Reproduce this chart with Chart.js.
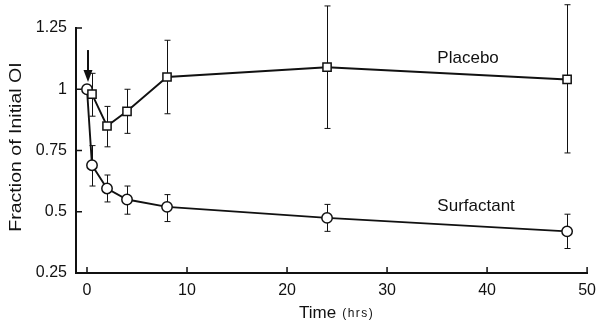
<!DOCTYPE html>
<html><head><meta charset="utf-8">
<script src="https://cdn.jsdelivr.net/npm/chart.js@4/dist/chart.umd.min.js"></script>
<style>html,body{margin:0;padding:0;background:#fff}#wrap{width:604px;height:326px}</style>
</head><body><div id="wrap"><canvas id="c" width="604" height="326"></canvas></div>
<script>
const placeboTime = [0.5, 2, 4, 8, 24, 48];
const placeboValue = [0.98, 0.85, 0.91, 1.05, 1.09, 1.04];
const placeboUpper = [1.065, 0.93, 1.0, 1.2, 1.34, 1.345];
const placeboLower = [0.89, 0.765, 0.82, 0.9, 0.84, 0.74];
const surfTime = [0, 0.5, 2, 4, 8, 24, 48];
const surfValue = [1.0, 0.69, 0.595, 0.55, 0.52, 0.475, 0.42];
const surfUpper = [null, 0.77, 0.65, 0.605, 0.57, 0.53, 0.49];
const surfLower = [null, 0.605, 0.54, 0.49, 0.46, 0.42, 0.35];
const xTicks = [0, 10, 20, 30, 40, 50];
const yTicks = [0.25, 0.5, 0.75, 1, 1.25];
const seriesLabels = ['Placebo', 'Surfactant'];
const xTitle = 'Time';
const xTitleUnit = '(hrs)';
const yTitle = 'Fraction of Initial OI';
const arrowX = 0.1, arrowFrom = 1.16, arrowTo = 1.03;

const FONT = '"Liberation Sans", Arial, sans-serif';
const INK = '#111';

function pts(xs, ys){ return xs.map((x,i)=>({x:x, y:ys[i]})); }

const overlay = {
  id: 'overlay',
  beforeDatasetsDraw(chart){
    const ctx = chart.ctx, xs = chart.scales.x, ys = chart.scales.y;
    ctx.save();
    ctx.strokeStyle = INK; ctx.lineWidth = 1;
    const bars = (t, up, lo) => {
      t.forEach((x,i)=>{
        if (up[i]==null) return;
        const px = Math.round(xs.getPixelForValue(x)) + 0.5;
        const a = ys.getPixelForValue(up[i]), b = ys.getPixelForValue(lo[i]);
        ctx.beginPath();
        ctx.moveTo(px, a); ctx.lineTo(px, b);
        ctx.moveTo(px-3, a); ctx.lineTo(px+3, a);
        ctx.moveTo(px-3, b); ctx.lineTo(px+3, b);
        ctx.stroke();
      });
    };
    bars(placeboTime, placeboUpper, placeboLower);
    bars(surfTime, surfUpper, surfLower);
    // inward ticks
    ctx.lineWidth = 1.5;
    const ca = chart.chartArea;
    ctx.beginPath();
    xTicks.forEach(v=>{ const p = xs.getPixelForValue(v); ctx.moveTo(p, ca.bottom); ctx.lineTo(p, ca.bottom-6); });
    yTicks.forEach(v=>{ const p = ys.getPixelForValue(v); ctx.moveTo(ca.left, p); ctx.lineTo(ca.left+6, p); });
    ctx.stroke();
    // arrow
    const ax = xs.getPixelForValue(arrowX);
    const a1 = ys.getPixelForValue(arrowFrom), a2 = ys.getPixelForValue(arrowTo);
    ctx.lineWidth = 2;
    ctx.beginPath(); ctx.moveTo(ax, a1); ctx.lineTo(ax, a2-10); ctx.stroke();
    ctx.fillStyle = INK;
    ctx.beginPath(); ctx.moveTo(ax-4.5, a2-12); ctx.lineTo(ax+4.5, a2-12); ctx.lineTo(ax, a2); ctx.closePath(); ctx.fill();
    ctx.restore();
  },
  afterDraw(chart){
    const ctx = chart.ctx, xs = chart.scales.x, ys = chart.scales.y;
    ctx.save();
    ctx.fillStyle = INK;
    ctx.font = '17px ' + FONT;
    ctx.textAlign = 'center'; ctx.textBaseline = 'alphabetic';
    ctx.fillText(seriesLabels[0], xs.getPixelForValue(38.1), ys.getPixelForValue(1.108));
    ctx.fillText(seriesLabels[1], xs.getPixelForValue(38.9), ys.getPixelForValue(0.503));
    // x title
    ctx.textAlign = 'left';
    ctx.font = '17px ' + FONT;
    ctx.fillText(xTitle, 299, 318);
    const w = ctx.measureText(xTitle).width;
    ctx.font = '12px ' + FONT;
    ctx.letterSpacing = '1.5px';
    ctx.fillText(xTitleUnit, 299 + w + 6, 317);
    ctx.letterSpacing = '0px';
    // y title
    ctx.translate(21, 147);
    ctx.rotate(-Math.PI/2);
    ctx.textAlign = 'center';
    ctx.font = '17px ' + FONT;
    ctx.scale(1.15, 1);
    ctx.fillText(yTitle, 0, 0);
    ctx.restore();
  }
};

new Chart(document.getElementById('c'), {
  type: 'line',
  data: {
    datasets: [
      { label: seriesLabels[0], data: pts(placeboTime, placeboValue), borderColor: INK, borderWidth: 1.9,
        pointStyle: 'rect', pointRadius: 5.8, pointBackgroundColor: '#fff', pointBorderColor: INK, pointBorderWidth: 1.5, tension: 0 },
      { label: seriesLabels[1], data: pts(surfTime, surfValue), borderColor: INK, borderWidth: 1.9,
        pointStyle: 'circle', pointRadius: 5.2, pointBackgroundColor: '#fff', pointBorderColor: INK, pointBorderWidth: 1.5, tension: 0 }
    ]
  },
  options: {
    responsive: false, animation: false, devicePixelRatio: 1,
    layout: { padding: { top: 28, right: 10, left: 0, bottom: 0 } },
    plugins: { legend: { display: false }, tooltip: { enabled: false } },
    scales: {
      x: { type: 'linear', min: -1.1, max: 50,
        afterBuildTicks: s => { s.ticks = xTicks.map(v=>({value:v})); },
        afterFit: s => { s.height = 53; },
        grid: { display: false, drawTicks: false },
        border: { display: true, color: INK, width: 2 },
        ticks: { padding: 8, color: INK, font: { family: FONT, size: 16 }, callback: v => String(v), maxRotation: 0 } },
      y: { type: 'linear', min: 0.25, max: 1.25,
        afterBuildTicks: s => { s.ticks = yTicks.map(v=>({value:v})); },
        afterFit: s => { s.width = 76; },
        grid: { display: false, drawTicks: false },
        border: { display: true, color: INK, width: 2 },
        ticks: { padding: 9, color: INK, font: { family: FONT, size: 16 }, callback: v => String(v) } }
    }
  },
  plugins: [overlay]
});
</script></body></html>
